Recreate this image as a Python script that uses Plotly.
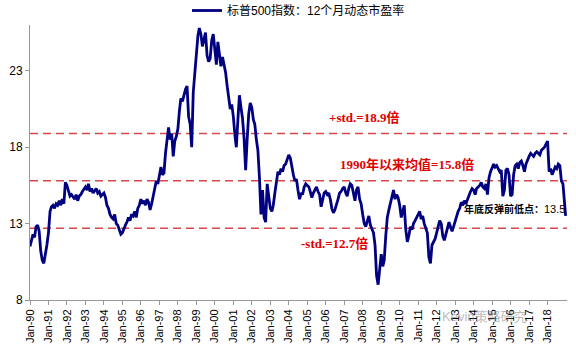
import plotly.graph_objects as go
import pandas as pd

# Monthly forward P/E (Jan..Dec each year)
pe_by_year = {
    1990: [11.5, 11.9, 12.3, 12.1, 12.8, 12.9, 12.5, 11.2, 10.6, 10.4, 10.9, 11.6],
    1991: [12.4, 13.8, 14.1, 14.2, 14.0, 14.3, 14.2, 14.5, 14.2, 14.6, 14.3, 15.7],
    1992: [15.5, 15.2, 14.8, 14.9, 14.7, 14.6, 14.9, 14.5, 14.8, 14.9, 15.1, 15.3],
    1993: [15.4, 15.2, 15.6, 15.1, 15.3, 15.0, 15.2, 15.3, 15.0, 15.1, 14.8, 14.9],
    1994: [15.0, 14.7, 14.2, 14.0, 13.6, 13.4, 13.3, 13.6, 13.0, 12.9, 12.5, 12.3],
    1995: [12.4, 12.7, 12.9, 13.1, 13.4, 13.2, 13.6, 13.5, 13.8, 13.4, 14.0, 14.2],
    1996: [14.6, 14.3, 14.5, 14.2, 14.6, 14.4, 13.9, 14.3, 14.9, 15.2, 15.8, 15.6],
    1997: [16.1, 16.7, 16.2, 16.3, 17.6, 18.3, 19.3, 18.5, 18.9, 17.4, 18.4, 18.7],
    1998: [19.2, 20.4, 21.2, 21.0, 21.5, 21.8, 22.0, 20.0, 19.5, 18.0, 21.6, 22.8],
    1999: [24.5, 25.3, 25.8, 25.4, 24.6, 25.0, 25.5, 24.0, 23.6, 23.8, 25.0, 25.4],
    2000: [24.4, 23.4, 24.9, 24.1, 23.3, 23.9, 23.4, 22.9, 22.0, 21.4, 20.5, 20.8],
    2001: [20.0, 18.8, 18.0, 19.8, 21.4, 20.6, 19.9, 18.6, 16.5, 18.5, 20.2, 20.9],
    2002: [20.6, 19.8, 19.5, 18.5, 17.8, 16.0, 13.6, 15.2, 13.4, 13.1, 15.6, 14.8],
    2003: [14.0, 13.8, 14.2, 15.0, 15.8, 16.4, 16.2, 16.6, 16.4, 16.8, 16.9, 17.2],
    2004: [17.5, 17.3, 16.6, 16.2, 15.8, 15.9, 15.2, 14.6, 15.0, 14.9, 15.4, 15.6],
    2005: [15.5, 15.4, 15.1, 14.7, 15.0, 15.2, 15.4, 15.1, 14.9, 14.1, 14.6, 15.0],
    2006: [15.1, 14.9, 15.0, 14.6, 14.0, 13.7, 13.9, 14.2, 14.6, 15.0, 15.1, 15.3],
    2007: [15.4, 15.0, 14.8, 15.3, 15.6, 15.5, 15.0, 14.5, 15.2, 15.4, 14.6, 14.3],
    2008: [13.6, 13.0, 12.8, 13.2, 13.5, 12.9, 12.6, 12.4, 11.6, 9.6, 9.0, 10.3],
    2009: [11.0, 10.2, 10.6, 12.2, 13.4, 13.9, 14.3, 14.8, 15.2, 14.6, 14.9, 14.7],
    2010: [14.2, 13.4, 13.9, 14.2, 12.6, 11.8, 12.2, 12.8, 12.6, 13.0, 13.2, 13.4],
    2011: [13.6, 13.8, 13.3, 13.5, 13.0, 12.6, 12.4, 10.8, 10.4, 11.6, 11.8, 12.0],
    2012: [12.4, 12.9, 13.2, 13.0, 12.2, 11.9, 12.3, 12.7, 13.1, 12.8, 12.5, 12.8],
    2013: [13.2, 13.5, 13.8, 14.0, 14.4, 14.2, 14.5, 14.3, 14.6, 14.9, 15.1, 15.3],
    2014: [15.2, 14.9, 15.3, 15.4, 15.5, 15.7, 15.4, 15.3, 15.6, 14.9, 16.0, 16.4],
    2015: [16.6, 16.9, 16.7, 16.8, 16.6, 16.4, 16.5, 14.8, 15.2, 16.5, 16.6, 16.2],
    2016: [14.8, 14.9, 16.2, 16.8, 16.9, 16.6, 17.0, 17.1, 16.8, 16.4, 16.9, 17.2],
    2017: [17.4, 17.6, 17.5, 17.4, 17.6, 17.7, 17.6, 17.5, 17.8, 17.9, 18.0, 18.2],
    2018: [18.4, 16.4, 16.6, 16.2, 16.5, 16.7, 16.6, 16.9, 16.8, 15.8, 15.6, 13.5],
}

dates = []
pe = []
for yr, vals in pe_by_year.items():
    for m, v in enumerate(vals):
        dates.append(pd.Timestamp(year=yr, month=m + 1, day=1))
        pe.append(v)
dates[-1] = pd.Timestamp("2018-12-24")

mean_pe = 15.8
plus_std = 18.9
minus_std = 12.7

tick_years = list(range(1990, 2019))
tick_vals = [pd.Timestamp(year=y, month=1, day=1) for y in tick_years]
tick_text = ["Jan-%02d" % (y % 100) for y in tick_years]

series_name = "标普500指数：12个月动态市盈率"

fig = go.Figure()
fig.add_trace(go.Scatter(
    x=dates, y=pe, mode="lines", name=series_name,
    line=dict(color="#000080", width=2.8),
))

red = "#d8474a"
for lvl in [plus_std, mean_pe, minus_std]:
    fig.add_shape(type="line", xref="paper", x0=0, x1=1, yref="y", y0=lvl, y1=lvl,
                  line=dict(color=red, width=1.5, dash="8px,5px"), layer="below")

ann_font = dict(family="Liberation Serif, Noto Sans CJK SC", size=13, color="#e00000")
fig.add_annotation(x=pd.Timestamp("2008-02-01"), y=19.35, text="<b>+std.=%.1f倍</b>" % plus_std,
                   showarrow=False, font=ann_font, yanchor="bottom")
fig.add_annotation(x=pd.Timestamp("2010-06-01"), y=16.25, text="<b>1990年以来均值=%.1f倍</b>" % mean_pe,
                   showarrow=False, font=ann_font, yanchor="bottom")
fig.add_annotation(x=pd.Timestamp("2006-07-01"), y=12.3, text="<b>-std.=%.1f倍</b>" % minus_std,
                   showarrow=False, font=ann_font, yanchor="top")
fig.add_annotation(x=1, xref="paper", xanchor="right", y=13.45, yanchor="bottom",
                   text="<b>年底反弹前低点：</b><span style='font-size:11px'>%.1f</span>" % pe[-1],
                   showarrow=False,
                   font=dict(family="Liberation Sans, Noto Sans CJK SC", size=10, color="#000000"))
fig.add_annotation(x=0.93, xref="paper", y=-0.095, yref="paper", text="Kevin策略研究",
                   showarrow=False, font=dict(family="Liberation Sans, Noto Sans CJK SC", size=13,
                                              color="rgba(140,140,140,0.6)"))

fig.update_layout(
    width=576, height=353,
    margin=dict(l=30, r=9, t=25, b=53, autoexpand=False),
    paper_bgcolor="white", plot_bgcolor="white",
    font=dict(family="Liberation Sans, Noto Sans CJK SC", color="#000000"),
    showlegend=True,
    legend=dict(orientation="h", x=0.5, xanchor="center", y=1.0, yanchor="bottom",
                font=dict(size=12, family="Liberation Sans, Noto Sans CJK SC"),
                bgcolor="rgba(0,0,0,0)"),
    xaxis=dict(
        range=[pd.Timestamp("1990-01-01"), pd.Timestamp("2019-01-20")],
        tickmode="array", tickvals=tick_vals, ticktext=tick_text, tickangle=-90,
        ticks="outside", ticklen=4, tickcolor="#999999",
        showline=True, linecolor="#999999", linewidth=1,
        showgrid=False, zeroline=False,
        tickfont=dict(size=11, color="#000000"),
    ),
    yaxis=dict(
        range=[8, 26], tickmode="array", tickvals=[8, 13, 18, 23],
        ticks="outside", ticklen=4, tickcolor="#999999",
        showline=True, linecolor="#999999", linewidth=1,
        showgrid=False, zeroline=False,
        tickfont=dict(size=12, color="#000000"),
    ),
)

fig.write_html("out.html")
